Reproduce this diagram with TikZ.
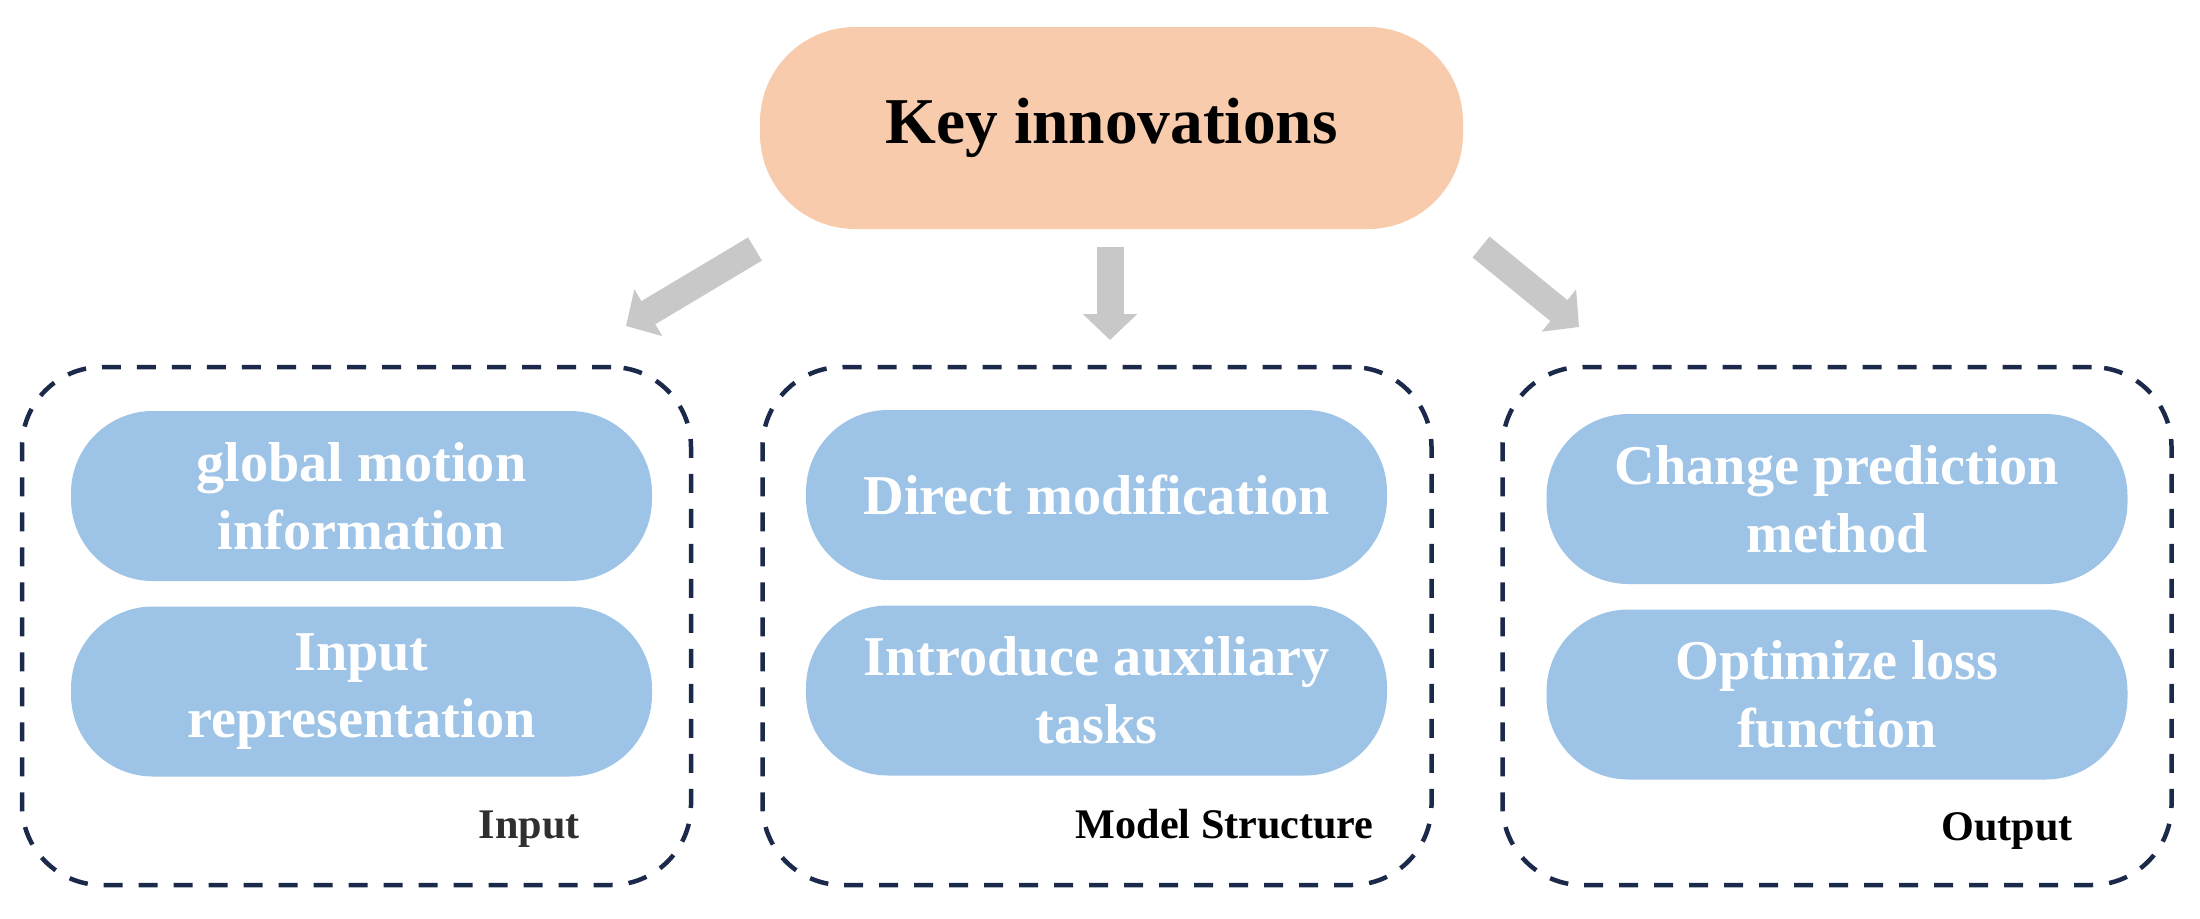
\documentclass[tikz,border=0pt]{standalone}
\usepackage{fontspec}
\setmainfont{Liberation Serif}
\usetikzlibrary{arrows.meta}

\definecolor{keyPeach}{HTML}{F8CBAD}
\definecolor{itemBlue}{HTML}{9DC3E6}
\definecolor{groupNavy}{HTML}{1B2A4A}
\definecolor{arrowGray}{HTML}{C8C8C8}
\definecolor{labelGray}{HTML}{2F2F2F}

\begin{document}
\begin{tikzpicture} [
		key/.style = {
			rectangle,
			rounded corners = 0.95cm,
			fill = keyPeach,
			minimum width = 7.03cm,
			minimum height = 2.02cm,
			inner sep = 0pt,
			font = \fontsize{18.6}{22}\selectfont\bfseries,
		},
		group/.style = {
			rectangle,
			rounded corners = 0.8cm,
			draw = groupNavy,
			line width = 0.045cm,
			dash pattern = on 0.19cm off 0.16cm,
			minimum width = 6.69cm,
			minimum height = 5.18cm,
		},
		item/.style = {
			rectangle,
			rounded corners = 0.82cm,
			fill = itemBlue,
			text = white,
			align = center,
			minimum width = 5.81cm,
			minimum height = 1.70cm,
			inner sep = 0pt,
			font = \fontsize{16}{19.3}\selectfont\bfseries,
		},
		group-caption/.style = {
			anchor = base east,
			font = \fontsize{12}{14}\selectfont\bfseries,
		},
		line/.style = {
			draw = arrowGray,
			line width = 0.27cm,
			-{Triangle[width = 0.53cm, length = 0.26cm]},
		}
	]

	\useasboundingbox (0,0) rectangle (22,-9.18);

	% top node
	\node[key] (key) at (11.115,-1.28) {Key innovations};

	% the three groups
	\node[group] (input) at (3.565,-6.26) {};
	\node[group] (model) at (10.97,-6.26) {};
	\node[group] (output) at (18.37,-6.26) {};

	\node[group-caption, text = labelGray] (inputCaption) at (5.92,-8.38) {Input};
	\node[group-caption] (modelCaption) at (13.86,-8.38) {Model Structure};
	\node[group-caption] (outputCaption) at (20.85,-8.40) {Output};

	% items
	\node[item] (globalMotion) at (3.615,-4.96) {global motion\\information};
	\node[item] (inputRep) at (3.615,-6.915) {Input\\representation};

	\node[item] (directMod) at (10.965,-4.95) {Direct modification};
	\node[item] (auxTasks) at (10.965,-6.905) {Introduce auxiliary\\tasks};

	\node[item] (changePred) at (18.37,-4.99) {Change prediction\\method};
	\node[item] (optLoss) at (18.37,-6.945) {Optimize loss\\function};

	% arrows
	\coordinate (inputTail) at (7.55,-2.49);
	\coordinate (inputTip) at (6.26,-3.26);
	\coordinate (modelTail) at (11.10,-2.47);
	\coordinate (modelTip) at (11.10,-3.40);
	\coordinate (outputTail) at (14.81,-2.47);
	\coordinate (outputTip) at (15.79,-3.27);

	\begin{scope} [
		every path/.style = line
		]
		\path (inputTail) -- (inputTip);
		\path (modelTail) -- (modelTip);
		\path (outputTail) -- (outputTip);
	\end{scope}
\end{tikzpicture}
\end{document}
